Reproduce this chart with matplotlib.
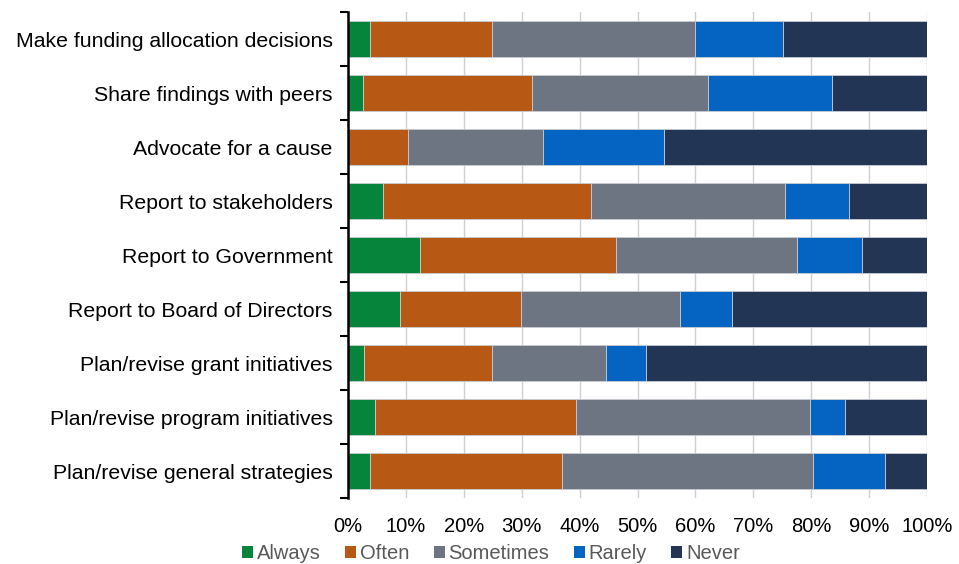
import matplotlib
matplotlib.use("Agg")
import matplotlib.pyplot as plt
import numpy as np

categories = [
    "Make funding allocation decisions",
    "Share findings with peers",
    "Advocate for a cause",
    "Report to stakeholders",
    "Report to Government",
    "Report to Board of Directors",
    "Plan/revise grant initiatives",
    "Plan/revise program initiatives",
    "Plan/revise general strategies",
]
series_names = ["Always", "Often", "Sometimes", "Rarely", "Never"]
always    = [3.7, 2.5, 0.0, 6.1, 12.5, 9.0, 2.7, 4.7, 3.7]
often     = [21.2, 29.2, 10.3, 35.9, 33.7, 20.8, 22.2, 34.6, 33.3]
sometimes = [35.1, 30.4, 23.4, 33.4, 31.3, 27.5, 19.6, 40.5, 43.3]
rarely    = [15.1, 21.5, 20.8, 11.1, 11.3, 9.0, 6.9, 6.0, 12.4]
never     = [24.9, 16.4, 45.5, 13.5, 11.2, 33.7, 48.6, 14.2, 7.3]
colors = ["#06843C", "#B85815", "#6E7582", "#0563C1", "#223555"]
xtick_labels = ["0%", "10%", "20%", "30%", "40%", "50%", "60%", "70%", "80%", "90%", "100%"]

plt.rcParams['font.family'] = ['Liberation Sans', 'DejaVu Sans']

fig = plt.figure(figsize=(9.59, 5.64), dpi=100)
ax = fig.add_axes([0.363, 0.117, 0.9666 - 0.363, 0.978 - 0.117])

data = [always, often, sometimes, rarely, never]
y = np.arange(len(categories))
left = np.zeros(len(categories))
for name, vals, c in zip(series_names, data, colors):
    vals = np.array(vals)
    ax.barh(y, vals, left=left, height=0.667, color=c, label=name,
            edgecolor="#C8CCD2", linewidth=0.6, zorder=3)
    left += vals

ax.set_xlim(0, 100)
ax.set_ylim(len(categories) - 0.5, -0.5)
ax.set_xticks(np.arange(0, 101, 10))
ax.set_xticklabels(xtick_labels, fontsize=14.5, color="black")
ax.tick_params(axis='x', length=0, pad=14)
ax.set_yticks(y)
ax.set_yticklabels(categories, fontsize=15.3, color="black")
ax.tick_params(axis='y', which='major', length=0, pad=11)
ax.set_yticks(np.arange(-0.5, len(categories), 1), minor=True)
ax.tick_params(axis='y', which='minor', length=6, width=1.5, color="black")

ax.grid(axis='x', color="#D0D0D0", linewidth=1, zorder=0)
ax.set_axisbelow(True)
for s in ["top", "right", "bottom"]:
    ax.spines[s].set_visible(False)
ax.spines["left"].set_linewidth(1.8)
ax.spines["left"].set_color("black")
ax.spines["left"].set_zorder(5)

handles, labels = ax.get_legend_handles_labels()
leg = fig.legend(handles, labels, loc="lower center", bbox_to_anchor=(0.512, -0.031),
                 ncol=5, frameon=False, fontsize=14.5, handlelength=0.55, handleheight=0.55,
                 handletextpad=0.2, columnspacing=1.2)
for t in leg.get_texts():
    t.set_color("#595959")
for h in leg.legend_handles:
    h.set_edgecolor("none")

fig.savefig("out.png", dpi=100)
